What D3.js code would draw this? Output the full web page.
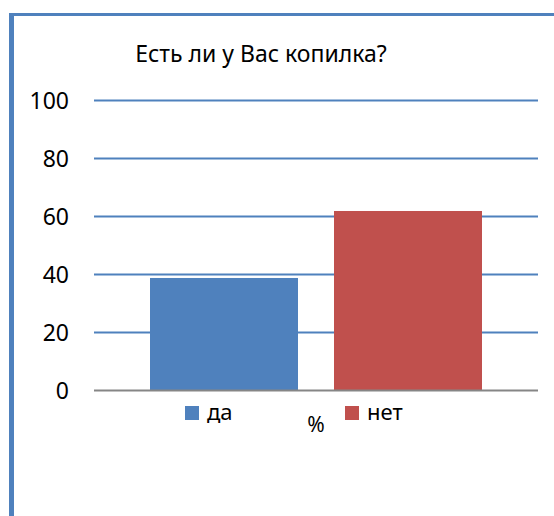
<!DOCTYPE html>
<html>
<head>
<meta charset="utf-8">
<script src="https://cdn.jsdelivr.net/npm/d3@7/dist/d3.min.js"></script>
<style>
  html, body { margin: 0; padding: 0; background: #fff; }
  svg { display: block; }
  text { font-family: "Noto Sans", "Open Sans", sans-serif; fill: #000; }
</style>
</head>
<body>
<svg id="chart" width="554" height="516"></svg>
<script>
const title = "Есть ли у Вас копилка?";
const categoryLabel = "%";
const series = ["да", "нет"];
const values = [38.8, 61.9];
const colors = ["#4f81bd", "#c0504d"];
const yTicks = [0, 20, 40, 60, 80, 100];

const svg = d3.select("#chart");

// frame borders
svg.append("rect").attr("x", 9).attr("y", 13).attr("width", 545).attr("height", 3).attr("fill", "#4f81bd");
svg.append("rect").attr("x", 9).attr("y", 13).attr("width", 5).attr("height", 503).attr("fill", "#4f81bd");

const plotLeft = 94, plotRight = 538;
const y = d3.scaleLinear().domain([0, 100]).range([390.5, 100.5]);
const x = d3.scaleBand().domain(series).range([150, 482]).paddingInner(36 / 184).paddingOuter(0);

// gridlines
svg.append("g").selectAll("line").data(yTicks.filter(d => d !== 0)).join("line")
  .attr("x1", plotLeft).attr("x2", plotRight)
  .attr("y1", d => y(d)).attr("y2", d => y(d))
  .attr("stroke", "#4f81bd").attr("stroke-width", 2);

// y axis labels
const yAxis = d3.axisLeft(y).tickValues(yTicks).tickSize(0).tickPadding(0);
const gy = svg.append("g").attr("transform", "translate(69,0)").call(yAxis);
gy.select(".domain").remove();
gy.selectAll("text").attr("font-size", 23).attr("font-family", "'Noto Sans', sans-serif").attr("fill", "#000").attr("dy", "0.34em");

// bars
svg.append("g").selectAll("rect").data(series).join("rect")
  .attr("x", d => x(d))
  .attr("width", x.bandwidth())
  .attr("y", (d, i) => y(values[i]))
  .attr("height", (d, i) => y(0) - y(values[i]))
  .attr("fill", (d, i) => colors[i]);

// zero axis line
svg.append("line").attr("x1", plotLeft).attr("x2", plotRight)
  .attr("y1", y(0)).attr("y2", y(0)).attr("stroke", "#868686").attr("stroke-width", 2);

// title
svg.append("text").attr("x", 261).attr("y", 62).attr("text-anchor", "middle")
  .attr("font-size", 23).text(title);

// category label
svg.append("text").attr("x", 316).attr("y", 432).attr("text-anchor", "middle")
  .attr("font-size", 21).text(categoryLabel);

// legend
const legendX = [185, 345];
const lg = svg.append("g").selectAll("g").data(series).join("g")
  .attr("transform", (d, i) => `translate(${legendX[i]},406)`);
lg.append("rect").attr("width", 14).attr("height", 14).attr("fill", (d, i) => colors[i]);
lg.append("text").attr("x", 22).attr("y", 7).attr("dy", "0.34em").attr("font-size", 22).text(d => d);
</script>
</body>
</html>
